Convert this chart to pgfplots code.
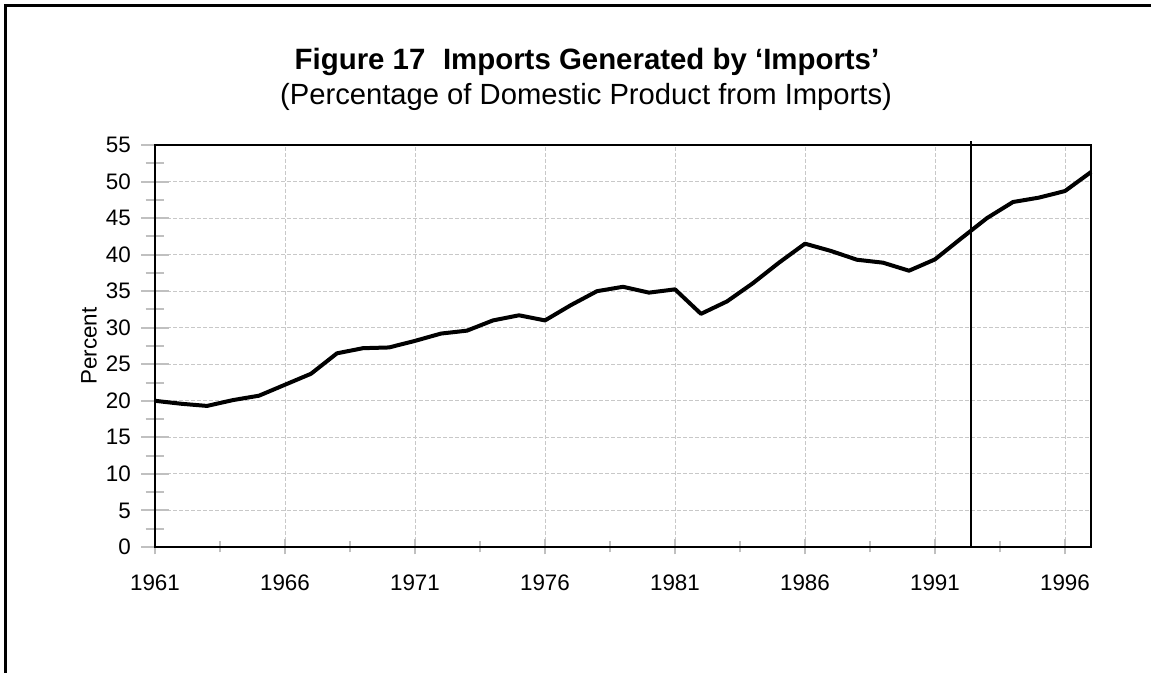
\documentclass[border=0pt]{standalone}
\usepackage{fontspec}
\setmainfont{Liberation Sans}
\usepackage{pgfplots}
\pgfplotsset{compat=1.18}
\definecolor{tickgray}{HTML}{C0C0C0}
\definecolor{gridgray}{HTML}{C8C8C8}
\pgfplotsset{
  base/.style={
    scale only axis, width=468pt, height=201pt,
    at={(77.5pt,63pt)}, anchor=south west,
    xmin=1961, xmax=1997, ymin=0, ymax=55,
    tick pos=left, tick align=center,
    axis line style={line width=1pt},
    major grid style={dash pattern=on 2pt off 1pt, gridgray, line width=0.5pt},
    tick style={color=tickgray, line width=1pt},
    ticklabel style={font=\fontsize{11.2}{13}\selectfont},
    /pgf/number format/assume math mode=true,
    /pgf/number format/1000 sep={},
    clip=false,
  }
}
\begin{document}
\begin{tikzpicture}
\path[use as bounding box] (0,0) rectangle (575.5pt,336.5pt);
\draw[line width=1.5pt] (2.5pt,-2pt) -- (2.5pt,333.5pt) -- (578pt,333.5pt);
% y ticks, labels and horizontal grid
\begin{axis}[base,
  xtick=\empty,
  ytick={0,5,...,55}, minor y tick num=1,
  ymajorgrids,
  major tick length=14pt, minor tick length=9.5pt,
  yticklabel style={xshift=-1.6pt},
]
\end{axis}
% x ticks, labels, vertical grid and data
\begin{axis}[base,
  ytick=\empty,
  xtick={1961,1966,...,1996}, minor x tick num=1,
  xmajorgrids,
  major tick length=7.5pt, minor tick length=5.5pt,
  xticklabel style={yshift=-6.9pt},
  ylabel={Percent},
  ylabel style={font=\fontsize{11.2}{13}\selectfont, at={(axis description cs:-0.0705,0.5)}, anchor=center},
]
\addplot[black, line width=2pt, line join=round] coordinates {
(1961,20.0) (1962,19.6) (1963,19.3) (1964,20.1) (1965,20.7) (1966,22.2)
(1967,23.7) (1968,26.5) (1969,27.2) (1970,27.3) (1971,28.2) (1972,29.2)
(1973,29.6) (1974,31.0) (1975,31.7) (1976,31.0) (1977,33.1) (1978,35.0)
(1979,35.6) (1980,34.8) (1981,35.25) (1982,31.9) (1983,33.6) (1984,36.1)
(1985,38.9) (1986,41.5) (1987,40.5) (1988,39.3) (1989,38.9) (1990,37.8)
(1991,39.35) (1992,42.2) (1993,45.0) (1994,47.2) (1995,47.8) (1996,48.7)
(1997,51.3)};
\addplot[black, line width=1pt] coordinates {(1992.4,0) (1992.4,55.55)};
\end{axis}
\node[font=\bfseries\fontsize{14.7}{17}\selectfont, anchor=base] at (293.5pt,301.5pt) {Figure 17\hspace{0.6em}Imports Generated by ‘Imports’};
\node[font=\fontsize{14.6}{17}\selectfont, anchor=base] at (293pt,284pt) {(Percentage of Domestic Product from Imports)};
\end{tikzpicture}
\end{document}
